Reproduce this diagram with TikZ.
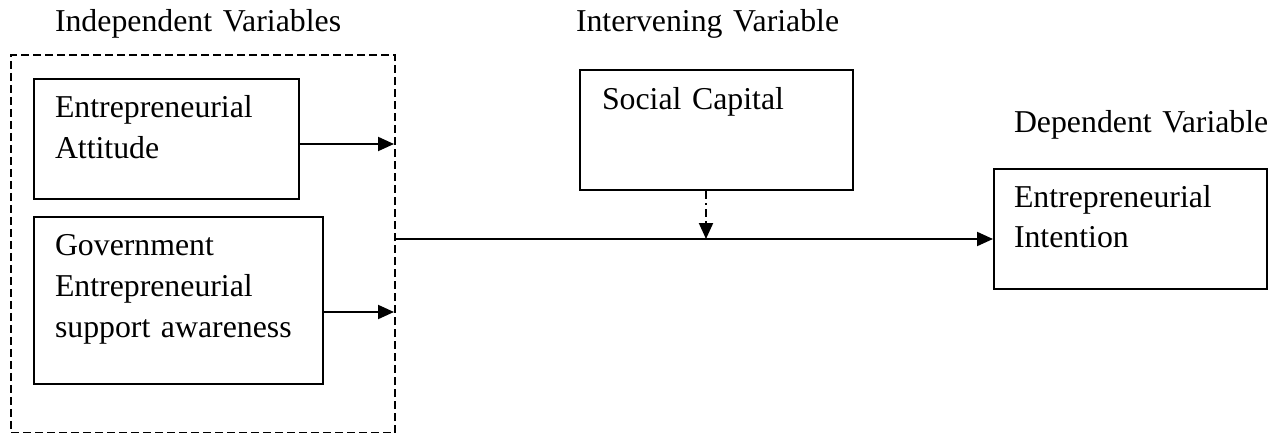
\documentclass[tikz,border=0pt]{standalone}
\usepackage{fontspec}
\setmainfont{Liberation Serif}
\usetikzlibrary{arrows.meta, positioning}

\begin{document}
\begin{tikzpicture}[x=0.5pt,y=-0.5pt,>={Triangle[length=8pt,width=7pt]},line width=1pt]
        \tikzstyle{every node}=[font=\fontsize{15.9}{20.5}\selectfont]
        \tikzstyle{box}=[draw,rectangle,anchor=north west,inner sep=0pt]
        \tikzstyle{txt}=[anchor=base west,inner sep=0pt,align=left,text width=150pt]
        \tikzstyle{dashdot}=[dash pattern=on 4pt off 2pt on 1pt off 2pt]

        \useasboundingbox (0,0) rectangle (1275,433);

        % headings
        \node[txt] (indeptitle) at (54,32)    {Independent Variables};
        \node[txt] (inttitle)   at (575,32)   {Intervening Variable};
        \node[txt] (deptitle)   at (1013,133) {Dependent Variable};

        % boxes
        \node[box,dash pattern=on 4pt off 2pt,minimum width=192pt,minimum height=189pt] (indep) at (10,54) {};
        \node[box,minimum width=132.5pt,minimum height=60pt]   (att) at (33,78)   {};
        \node[box,minimum width=144.5pt,minimum height=83.5pt] (gov) at (33,216)  {};
        \node[box,minimum width=136.5pt,minimum height=60pt]   (soc) at (579,69)  {};
        \node[box,minimum width=136.5pt,minimum height=60pt]   (dep) at (993,168) {};

        \node[txt] (atttext) at (54,118)   {Entrepreneurial\\Attitude};
        \node[txt] (govtext) at (54,256)   {Government\\Entrepreneurial\\support awareness};
        \node[txt] (soctext) at (601,110)  {Social Capital};
        \node[txt] (deptext) at (1013,207) {Entrepreneurial\\Intention};

        % connectors
        \coordinate (a1) at (394,144);
        \coordinate (g1) at (394,312);
        \coordinate (m0) at (394,239);
        \coordinate (s1) at (706,239);

        \draw[->] (att.east |- a1) -- (a1);
        \draw[->] (gov.east |- g1) -- (g1);
        \draw[->] (m0) -- (dep.west |- m0);
        \draw[->,dashdot] (soc.south -| s1) -- (s1);
\end{tikzpicture}
\end{document}
